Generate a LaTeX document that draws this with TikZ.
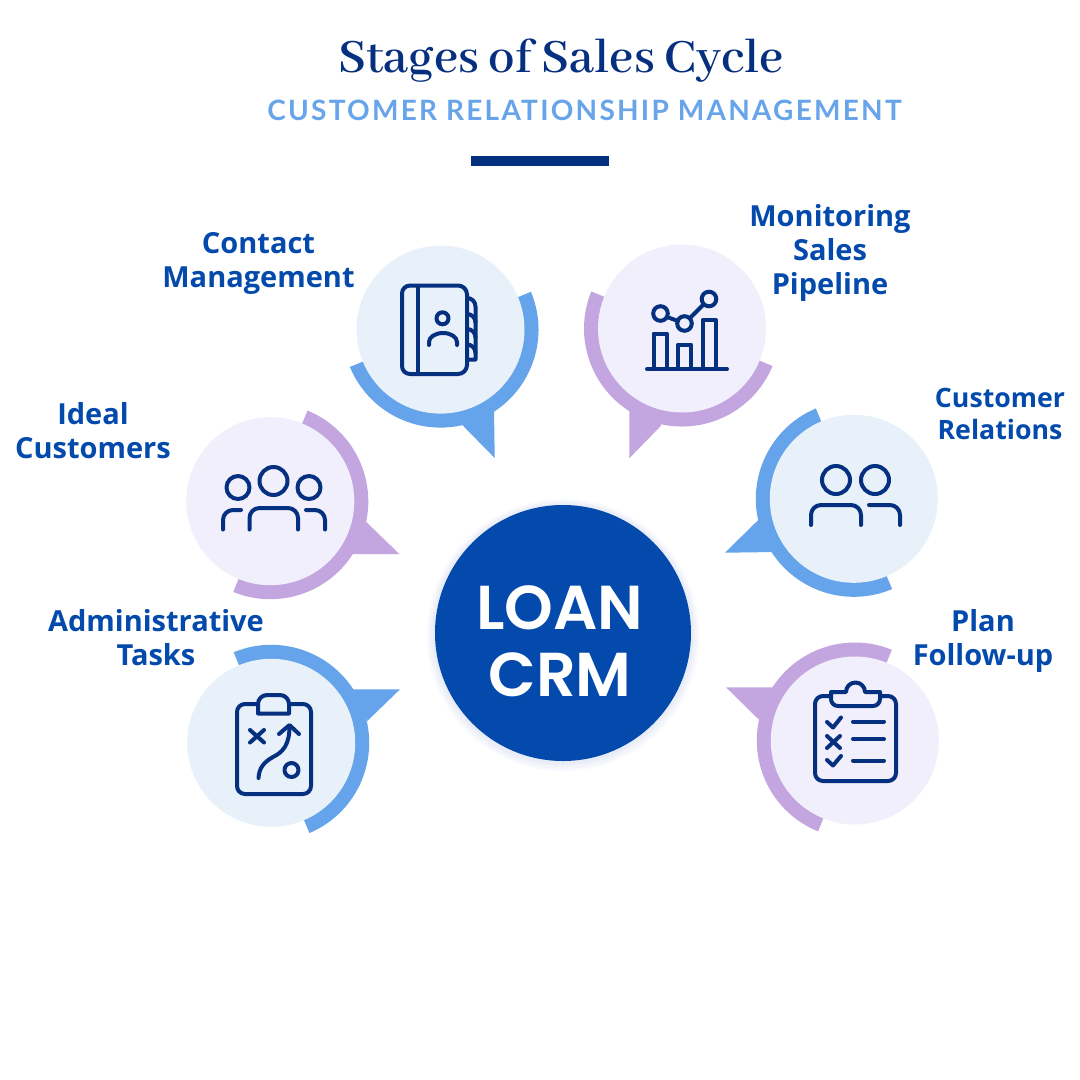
\documentclass[tikz,border=0pt]{standalone}
\usepackage{fontspec}
\setmainfont{Open Sans}
\newfontfamily\titlefont{Abhaya Libre}
\newfontfamily\subfont{Lato}
\newfontfamily\centerfont{Poppins SemiBold}
\definecolor{navy}{HTML}{052F7F}
\definecolor{royal}{HTML}{034AAC}
\definecolor{skyring}{HTML}{65A3EA}
\definecolor{lilac}{HTML}{C3A6E0}
\definecolor{skyfill}{HTML}{E8F1FA}
\definecolor{lilfill}{HTML}{F1EFFB}
\definecolor{subblue}{HTML}{68A4EA}
\tikzset{
 x=1pt,y=-1pt,
 lbl/.style={font=\bfseries\fontsize{29}{34}\selectfont,text=royal,align=center,inner sep=0pt},
 lblb/.style={font=\bfseries\fontsize{26.7}{32}\selectfont,text=royal,align=center,inner sep=0pt},
 disc/.style={circle,minimum size=168pt,inner sep=0pt},
 ico/.style={draw=navy,line width=4pt,line cap=round,line join=round,fill=none},
 hubword/.style={inner sep=0pt,anchor=base,text=white,font=\centerfont\fontsize{62}{62}\selectfont},
 halo/.style={fill=royal,opacity=0.025},
}
% #1 centre x, #2 centre y, #3 start angle, #4 end angle (math, going as given), #5 colour
\newcommand{\ringarc}[5]{%
 \fill[#5] ({#1+98*cos(#3)},{#2-98*sin(#3)}) arc[start angle=-#3,end angle=-#4,radius=98]
   -- ({#1+70*cos(#4)},{#2-70*sin(#4)}) arc[start angle=-#4,end angle=-#3,radius=70] -- cycle;}
\begin{document}
\begin{tikzpicture}
\useasboundingbox (0,0) rectangle (1080,1080);
\fill[white] (0,0) rectangle (1080,1080);
% title
\node[inner sep=0pt,anchor=base,text=navy,font=\titlefont\bfseries\fontsize{52.5}{52}\selectfont] (title) at (561,72) {Stages of Sales Cycle};
\node[inner sep=0pt,text=subblue,font=\subfont\bfseries\fontsize{28}{28}\selectfont] (sub) at (584.5,110) {\addfontfeatures{LetterSpace=8}CUSTOMER RELATIONSHIP MANAGEMENT};
\fill[navy] (471,156) rectangle (609,166);
% centre
\fill[halo] (563,635) circle[radius=136];
\fill[halo] (563,635) circle[radius=134];
\fill[halo] (563,634) circle[radius=132];
\fill[halo] (563,634) circle[radius=130];
\node[circle,minimum size=256pt,inner sep=0pt,fill=royal] (hub) at (563,633) {};
\node[hubword] (loan) at (560,629) {LOAN};
\node[hubword] (crm) at (560,696) {CRM};
% contact
\ringarc{440.5}{329.6}{22.7}{-157.6}{skyring}
\fill[skyring] (462.3,425) -- (494.7,458) -- (494,408) -- cycle;
\node[disc,fill=skyfill] (contact) at (440.5,329.6) {};
% monitoring
\ringarc{682}{328.5}{157.8}{337.5}{lilac}
\fill[lilac] (661.7,425) -- (629.3,458.3) -- (629.3,408) -- cycle;
\node[disc,fill=lilfill] (monitor) at (682,328.5) {};
% ideal
\ringarc{270.3}{501.2}{67.7}{-112.2}{lilac}
\fill[lilac] (366,521.7) -- (399.3,554) -- (349,554) -- cycle;
\node[disc,fill=lilfill] (ideal) at (270.3,501.2) {};
% customer
\ringarc{853.8}{498.8}{112.8}{293}{skyring}
\fill[skyring] (758.3,520) -- (725,552.7) -- (775,552) -- cycle;
\node[disc,fill=skyfill] (customer) at (853.8,498.8) {};
% admin
\ringarc{271.2}{742.8}{112.5}{-67}{skyring}
\fill[skyring] (351,689.3) -- (400,689.3) -- (367.3,721) -- cycle;
\node[disc,fill=skyfill] (admin) at (271.2,742.8) {};
% plan
\ringarc{854.8}{740.5}{67.8}{248}{lilac}
\fill[lilac] (726,687.3) -- (775,687.3) -- (759.3,720) -- cycle;
\node[disc,fill=lilfill] (plan) at (854.8,740.5) {};
% labels
\node[lbl] (l1) at (258.5,263) {Contact\\Management};
\node[lbl] (l2) at (830,252.5) {Monitoring\\Sales\\Pipeline};
\node[lbl] (l3) at (93,431) {Ideal\\Customers};
\node[lblb] (l4) at (1000,414) {Customer\\Relations};
\node[lbl] (l5) at (156,637.5) {Administrative\\Tasks};
\node[lbl] (l6) at (983,640.5) {Plan\\Follow-up};
% icon: address book
\draw[ico] (410,285.5) -- (458,285.5) arc[start angle=-90,end angle=0,radius=9] -- (467,365) arc[start angle=0,end angle=90,radius=9] -- (410,374) arc[start angle=90,end angle=180,radius=8] -- (402,293.5) arc[start angle=180,end angle=270,radius=8] -- cycle;
\draw[ico] (417.5,286) -- (417.5,373);
\draw[ico] (442.5,318.3) circle[radius=6];
\draw[ico] (429,345) -- (429,342) arc[start angle=180,end angle=360,x radius=14,y radius=9] -- (457,345);
\draw[ico] (467,298) arc[start angle=-90,end angle=0,radius=8.5] -- (475.5,359.5) -- (467,359.5);
\draw[ico] (467,314) arc[start angle=-90,end angle=0,radius=8.5];
\draw[ico] (467,329) arc[start angle=-90,end angle=0,radius=8.5];
\draw[ico] (467,344.5) arc[start angle=-90,end angle=0,radius=8.5];
% icon: chart
\draw[ico] (647,369) -- (727,369);
\draw[ico] (653.5,369) -- (653.5,333.5) -- (667,333.5) -- (667,369);
\draw[ico] (678,369) -- (678,344.5) -- (691,344.5) -- (691,369);
\draw[ico] (702.5,369) -- (702.5,320) -- (716,320) -- (716,369);
\draw[ico] (660.5,313.5) circle[radius=7.3];
\draw[ico] (684.5,323.5) circle[radius=7.3];
\draw[ico] (709,299) circle[radius=7.3];
\draw[ico] (667,317) -- (678,321);
\draw[ico] (690,318) -- (703.5,304.5);
% icon: three people
\draw[ico] (238,487.5) circle[radius=11.5];
\draw[ico] (273.5,481) circle[radius=14];
\draw[ico] (309,487.5) circle[radius=11.5];
\draw[ico] (223,529.5) -- (223,520) arc[start angle=180,end angle=270,radius=10] -- (241,510);
\draw[ico] (249.5,529.5) -- (249.5,518) arc[start angle=180,end angle=270,radius=10] -- (288,508) arc[start angle=-90,end angle=0,radius=10] -- (298,529.5);
\draw[ico] (306,510) -- (315,510) arc[start angle=-90,end angle=0,radius=10] -- (325,529.5);
% icon: two people
\draw[ico] (836,480) circle[radius=14];
\draw[ico] (875,480) circle[radius=14];
\draw[ico] (811,525) -- (811,515) arc[start angle=180,end angle=270,radius=10] -- (851,505) arc[start angle=-90,end angle=0,radius=10] -- (861,525);
\draw[ico] (869,505) -- (890,505) arc[start angle=-90,end angle=0,radius=10] -- (900,525);
% icon: strategy board
\draw[ico] (258,704) -- (245,704) arc[start angle=-90,end angle=-180,radius=8] -- (237,786) arc[start angle=180,end angle=90,radius=8] -- (303,794) arc[start angle=90,end angle=0,radius=8] -- (311,712) arc[start angle=0,end angle=-90,radius=8] -- (290,704);
\draw[ico] (258,713.5) -- (258,704) arc[start angle=180,end angle=270,radius=9] -- (280,695) arc[start angle=-90,end angle=0,radius=9] -- (289,713.5) -- cycle;
\draw[ico] (250,730) -- (264,742.5);
\draw[ico] (264,730) -- (250,742.5);
\draw[ico] (279,734) -- (289.5,725) -- (299,734);
\draw[ico] (289.5,726) .. controls (289.5,745) and (283,752) .. (273,757) .. controls (264,762) and (259,768) .. (258.5,778);
\draw[ico] (291.5,770) circle[radius=7];
% icon: checklist
\draw[ico] (831,696) -- (823,696) arc[start angle=-90,end angle=-180,radius=8] -- (815,773) arc[start angle=180,end angle=90,radius=8] -- (888,781) arc[start angle=90,end angle=0,radius=8] -- (896,704) arc[start angle=0,end angle=-90,radius=8] -- (881,696);
\draw[ico] (831,692) -- (846,692) arc[start angle=180,end angle=360,radius=9.5] -- (880,692) -- (880,699) arc[start angle=0,end angle=90,radius=7] -- (838,706) arc[start angle=90,end angle=180,radius=7] -- (831,692);
\draw[ico] (827,722) -- (833,727.5) -- (841,717.5);
\draw[ico] (853,721.5) -- (884,721.5);
\draw[ico] (827,736) -- (840,748);
\draw[ico] (840,736) -- (827,748);
\draw[ico] (853,739) -- (884,739);
\draw[ico] (827,760) -- (833,765.5) -- (841,756);
\draw[ico] (853,760.5) -- (884,760.5);
\end{tikzpicture}
\end{document}
